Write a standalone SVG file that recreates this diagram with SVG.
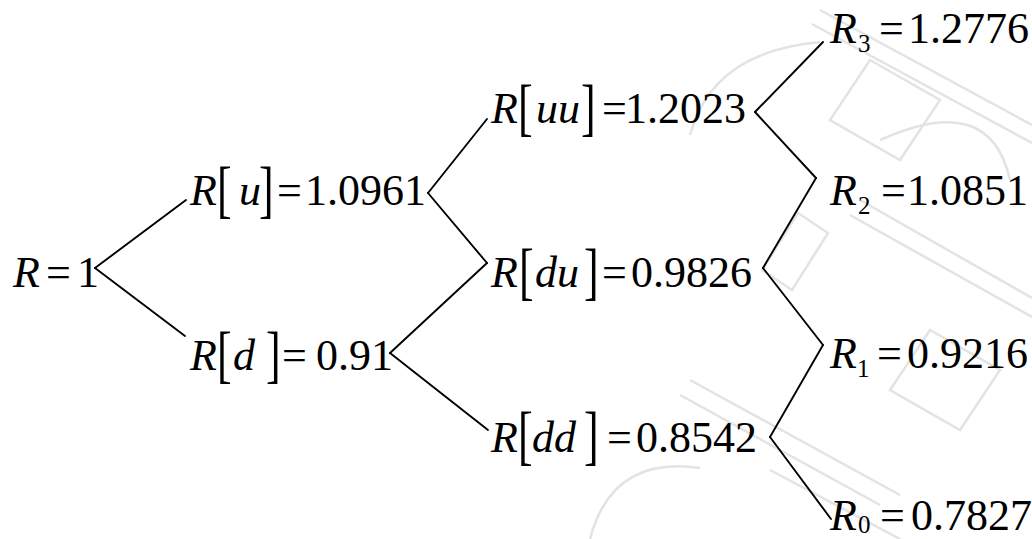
<svg xmlns="http://www.w3.org/2000/svg" width="1032" height="539" viewBox="0 0 1032 539">
<style>
.t{font-size:44px;fill:#000}
.i{font-style:italic}
.s{font-size:25px}
.e{stroke:#000;stroke-width:1.9;fill:none;stroke-linecap:round}
.w{stroke:#e3e3e3;stroke-width:2.5;fill:none}
</style>
<rect width="1032" height="539" fill="#fff"/>
<g id="watermark">
<path class="w" d="M820,10 L1032,125 M812,24 L1032,143 M860,200 L1032,298 M850,215 L1032,317 M690,380 L900,495 M680,395 L880,505 M770,470 L900,539"/>
<path class="w" d="M798,213 L828,233 L792,290 L762,270 Z M870,60 L940,100 L900,160 L830,120 Z M930,330 L1000,370 L960,430 L890,390 Z"/>
<path class="w" d="M590,539 Q612,455 700,468 M690,135 Q712,52 820,42 M880,140 Q990,90 1010,180"/>
</g>
<g id="connectors">
<line class="e" x1="95" y1="268" x2="186" y2="200"/>
<line class="e" x1="95" y1="268" x2="185" y2="336"/>
<line class="e" x1="428" y1="193" x2="487" y2="119"/>
<line class="e" x1="428" y1="193" x2="487" y2="263"/>
<line class="e" x1="390" y1="353" x2="487" y2="263"/>
<line class="e" x1="390" y1="353" x2="488" y2="430"/>
<line class="e" x1="755" y1="112" x2="823" y2="42"/>
<line class="e" x1="755" y1="112" x2="816" y2="178"/>
<line class="e" x1="763" y1="268" x2="816" y2="178"/>
<line class="e" x1="763" y1="268" x2="823" y2="345"/>
<line class="e" x1="770" y1="437" x2="823" y2="345"/>
<line class="e" x1="770" y1="437" x2="831" y2="519"/>
</g>
<g font-family="Liberation Serif, Times New Roman, serif">
<g id="n-R">
<text class="t i" x="13" y="287">R</text>
<text class="t" x="46" y="287">=</text>
<text class="t" x="77" y="287">1</text>
</g>
<g id="n-Ru">
<text class="t i" x="190" y="205">R</text>
<text class="t" transform="translate(217,210) scale(1,1.45)">[</text>
<text class="t i" x="239" y="205">u</text>
<text class="t" transform="translate(259,210) scale(1,1.45)">]</text>
<text class="t" x="277" y="205">=</text>
<text class="t" x="305" y="205">1.0961</text>
</g>
<g id="n-Rd">
<text class="t i" x="190" y="370">R</text>
<text class="t" transform="translate(217,375) scale(1,1.45)">[</text>
<text class="t i" x="233" y="370">d</text>
<text class="t" transform="translate(266,375) scale(1,1.45)">]</text>
<text class="t" x="282" y="370">=</text>
<text class="t" x="316" y="370">0.91</text>
</g>
<g id="n-Ruu">
<text class="t i" x="491" y="123">R</text>
<text class="t" transform="translate(518,128) scale(1,1.45)">[</text>
<text class="t i" x="536" y="123">uu</text>
<text class="t" transform="translate(581,128) scale(1,1.45)">]</text>
<text class="t" x="602" y="123">=</text>
<text class="t" x="625" y="123">1.2023</text>
</g>
<g id="n-Rdu">
<text class="t i" x="491" y="287">R</text>
<text class="t" transform="translate(519,292) scale(1,1.45)">[</text>
<text class="t i" x="535" y="287">du</text>
<text class="t" transform="translate(584,292) scale(1,1.45)">]</text>
<text class="t" x="602" y="287">=</text>
<text class="t" x="631" y="287">0.9826</text>
</g>
<g id="n-Rdd">
<text class="t i" x="491" y="452">R</text>
<text class="t" transform="translate(518,457) scale(1,1.5)">[</text>
<text class="t i" x="532" y="452">dd</text>
<text class="t" transform="translate(584,457) scale(1,1.5)">]</text>
<text class="t" x="607" y="452">=</text>
<text class="t" x="636" y="452">0.8542</text>
</g>
<g id="n-R3">
<text class="t i" x="830" y="43">R</text>
<text class="t s" x="858" y="52">3</text>
<text class="t" x="879" y="43">=</text>
<text class="t" x="908" y="43">1.2776</text>
</g>
<g id="n-R2">
<text class="t i" x="830" y="205">R</text>
<text class="t s" x="858" y="214">2</text>
<text class="t" x="881" y="205">=</text>
<text class="t" x="907" y="205">1.0851</text>
</g>
<g id="n-R1">
<text class="t i" x="830" y="368">R</text>
<text class="t s" x="857" y="377">1</text>
<text class="t" x="877" y="368">=</text>
<text class="t" x="907" y="368">0.9216</text>
</g>
<g id="n-R0">
<text class="t i" x="830" y="530">R</text>
<text class="t s" x="858" y="533">0</text>
<text class="t" x="880" y="530">=</text>
<text class="t" x="911" y="530">0.7827</text>
</g>
</g>
</svg>
